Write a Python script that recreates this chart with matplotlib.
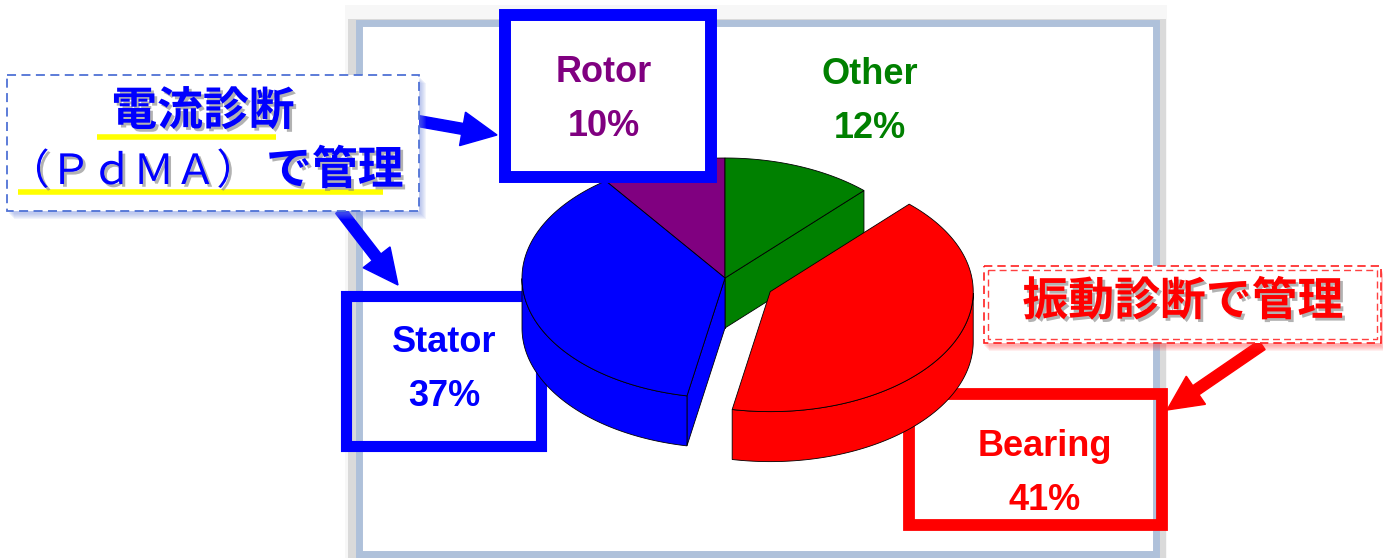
import numpy as np
import matplotlib
matplotlib.use("Agg")
import matplotlib.pyplot as plt
from matplotlib.patches import Polygon, Rectangle, FancyArrow
import matplotlib.patheffects as pe

plt.rcParams['font.family'] = ['Liberation Sans', 'Noto Sans CJK JP', 'DejaVu Sans']

# data (counter-clockwise from 12 o'clock)
labels = ["Rotor", "Stator", "Bearing", "Other"]
values = [10, 37, 41, 12]
colors = ["#800080", "#0000ff", "#ff0000", "#008000"]
explode = [0, 0, 0.25, 0]

left_note = ["電流診断", "（ＰｄＭＡ）", "で管理"]
right_note = "振動診断で管理"

# pie geometry in pixels
cx, cy, rx, ry, depth = 725, 278, 203, 120, 50

fig = plt.figure(figsize=(13.83, 5.58), dpi=100)
ax = fig.add_axes([0, 0, 1, 1])
ax.set_xlim(0, 1383)
ax.set_ylim(558, 0)
ax.axis("off")

# chart panel frame
ax.add_patch(Rectangle((345, 5), 822, 553, facecolor="#f7f7f7", edgecolor="none", zorder=0))
ax.add_patch(Rectangle((348, 19), 818, 539, facecolor="#dadada", edgecolor="none", zorder=0))
ax.add_patch(Rectangle((359, 22.5), 797, 531, facecolor="white", edgecolor="#afc1da",
                       linewidth=5, zorder=1))


def pt(t, ox, oy, dz=0):
    return ox + rx * np.cos(np.radians(t)), oy - ry * np.sin(np.radians(t)) + dz


starts = 90 + 360 * np.concatenate([[0], np.cumsum(values)[:-1]]) / sum(values)
ends = 90 + 360 * np.cumsum(values) / sum(values)

walls, sides, tops = [], [], []
for i, (t1, t2) in enumerate(zip(starts, ends)):
    mid = np.radians((t1 + t2) / 2)
    ox = cx + explode[i] * rx * np.cos(mid)
    oy = cy - explode[i] * ry * np.sin(mid)
    layer = 1 if explode[i] else 0
    ts = np.linspace(t1, t2, 200)
    xs, ys = pt(ts, ox, oy)
    tops.append((layer, np.column_stack([np.r_[ox, xs], np.r_[oy, ys]]), colors[i]))
    # outer side, front half only
    vis = np.sin(np.radians(ts)) <= 0
    if vis.any():
        tv = ts[vis]
        sx, sy = pt(tv, ox, oy)
        poly = np.column_stack([np.r_[sx, sx[::-1]], np.r_[sy, sy[::-1] + depth]])
        sides.append((layer, poly, colors[i]))
    # radial walls facing the viewer
    for t, ok in ((t1, np.cos(np.radians(t1)) > 0), (t2, np.cos(np.radians(t2)) < 0)):
        if ok:
            ex, ey = pt(t, ox, oy)
            poly = [(ox, oy), (ex, ey), (ex, ey + depth), (ox, oy + depth)]
            walls.append((layer, (oy + ey) / 2, poly, colors[i]))

z = 3.0
for layer in (0, 1):
    for w in sorted([w for w in walls if w[0] == layer], key=lambda w: w[1]):
        ax.add_patch(Polygon(w[2], closed=True, facecolor=w[3], edgecolor="black", lw=0.6, zorder=z))
        z += 0.01
    for s in [s for s in sides if s[0] == layer]:
        ax.add_patch(Polygon(s[1], closed=True, facecolor=s[2], edgecolor="black", lw=0.6, zorder=z))
        z += 0.01
    for tp in [tp for tp in tops if tp[0] == layer]:
        ax.add_patch(Polygon(tp[1], closed=True, facecolor=tp[2], edgecolor="black", lw=0.6, zorder=z))
        z += 0.01

# label boxes
ax.add_patch(Rectangle((345.5, 295.5), 195, 150, fill=False, edgecolor="#0000ff", lw=8, zorder=2))
ax.add_patch(Rectangle((909, 394), 253, 131, fill=False, edgecolor="#ff0000", lw=8.5, zorder=2))
ax.add_patch(Rectangle((504.5, 15), 206, 162, facecolor="white", edgecolor="#0000ff", lw=8.6, zorder=6))

label_pos = {"Rotor": (604, 72), "Stator": (444, 343), "Bearing": (1045, 447), "Other": (870, 75)}
for lab, v, c in zip(labels, values, colors):
    x, y = label_pos[lab]
    ax.text(x, y, lab, color=c, fontsize=26, fontweight="bold", ha="center", va="center", zorder=8)
    ax.text(x, y + 54, f"{v}%", color=c, fontsize=26, fontweight="bold", ha="center", va="center", zorder=8)

# arrows
arrow_kw = dict(width=11, head_width=34, head_length=35, length_includes_head=True, edgecolor="none")
ax.add_patch(FancyArrow(418, 121, 79, 14, color="#0000ff", zorder=7, **arrow_kw))
ax.add_patch(FancyArrow(340, 210, 58, 75, color="#0000ff", zorder=7, **arrow_kw))
ax.add_patch(FancyArrow(1262, 345, -95, 65, color="#ff0000", zorder=7, **arrow_kw))

# left callout
for k in range(6):
    ax.add_patch(Rectangle((7 + 2 + k, 75 + 3 + k), 412, 136, facecolor="#7f93e0",
                           edgecolor="none", alpha=0.10, zorder=8))
ax.add_patch(Rectangle((7, 75), 412, 136, facecolor="white", edgecolor="#4f72d6",
                       lw=1.3, linestyle=(0, (5, 3)), zorder=9))
ax.plot([97, 276], [137, 137], color="#ffff00", lw=4, solid_capstyle="butt", zorder=10)
ax.plot([18, 383], [192, 192], color="#ffff00", lw=4, solid_capstyle="butt", zorder=10)
shadow = [pe.withSimplePatchShadow(offset=(2, -2), shadow_rgbFace="#808080", alpha=0.6)]
ax.text(203, 113, left_note[0], color="#0000ff", fontsize=33, fontweight="bold",
        ha="center", va="center", zorder=11, path_effects=shadow)
ax.text(8, 173, left_note[1], color="#0000ff", fontsize=30, fontweight="normal",
        ha="left", va="center", zorder=11, path_effects=shadow)
ax.text(266, 172, left_note[2], color="#0000ff", fontsize=33, fontweight="bold",
        ha="left", va="center", zorder=11, path_effects=shadow)

# right callout
for k in range(6):
    ax.add_patch(Rectangle((984 + k, 266 + 3 + k), 397, 77, facecolor="#ff3030",
                           edgecolor="none", alpha=0.08, zorder=8))
ax.add_patch(Rectangle((984, 266), 397, 77, facecolor="white", edgecolor="#ff2020",
                       lw=1.2, linestyle=(0, (5, 3)), zorder=9))
ax.add_patch(Rectangle((988, 270), 389, 69, fill=False, edgecolor="#ff4040",
                       lw=1.0, linestyle=(0, (5, 3)), zorder=9))
ax.text(1183, 303, right_note, color="#ff0000", fontsize=33, fontweight="bold",
        ha="center", va="center", zorder=11, path_effects=shadow)

fig.savefig("out.png", dpi=100)
